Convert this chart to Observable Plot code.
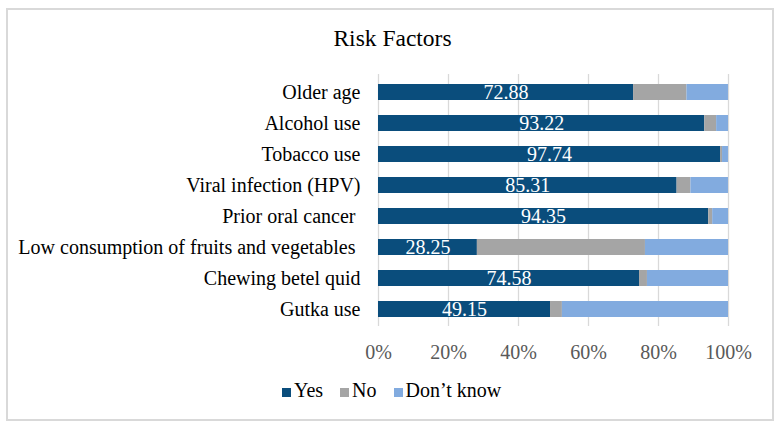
<!DOCTYPE html>
<html>
<head>
<meta charset="utf-8">
<script src="https://cdn.jsdelivr.net/npm/d3@7"></script>
<script src="https://cdn.jsdelivr.net/npm/@observablehq/plot@0.6"></script>
<style>
  html, body { margin: 0; padding: 0; background: #fff; }
  body { width: 782px; height: 427px; position: relative; overflow: hidden; font-family: "Liberation Serif", "Times New Roman", serif; }
  #frame { position: absolute; left: 6px; top: 8px; width: 768px; height: 413px; border: 2px solid #d9d9d9; box-sizing: border-box; }
  #title { position: absolute; left: 0; top: 27px; width: 785px; text-align: center; font-size: 23.5px; line-height: 1; color: #000; }
  #chart { position: absolute; left: 0; top: 0; }
  #chart svg, #chart svg text { font-family: "Liberation Serif", "Times New Roman", serif !important; }
  #legend { position: absolute; left: 282px; top: 380px; font-size: 20px; line-height: 1; color: #000; white-space: nowrap; }
  #legend .sw { display: inline-block; width: 9px; height: 9px; margin-right: 3px; }
  #legend .item { margin-right: 17px; }
  #legend .item:last-child { margin-right: 0; }
</style>
</head>
<body>
<div id="frame"></div>
<div id="title">Risk Factors</div>
<div id="chart"></div>
<div id="legend"></div>
<script>
const factors = ["Older age", "Alcohol use", "Tobacco use", "Viral infection (HPV)", "Prior oral cancer ", "Low consumption of fruits and vegetables ", "Chewing betel quid", "Gutka use"];
const responses = ["Yes", "No", "Don\u2019t know"];
const colors = ["#0a4d7c", "#a5a5a5", "#82abdf"];
const yesValues = [72.88, 93.22, 97.74, 85.31, 94.35, 28.25, 74.58, 49.15];
const noValues = [15.25, 3.39, 0.56, 3.95, 1.13, 48.02, 2.26, 3.39];
const dontKnowValues = [11.86, 3.39, 1.69, 10.73, 4.52, 23.73, 23.16, 47.46];
const xTicks = [0, 20, 40, 60, 80, 100];

const seriesValues = [yesValues, noValues, dontKnowValues];
const data = [];
responses.forEach((r, i) => {
  factors.forEach((f, j) => data.push({factor: f, response: r, value: seriesValues[i][j]}));
});
const yesData = factors.map((f, j) => ({factor: f, value: yesValues[j]}));
const serif = "Liberation Serif";

const plot = Plot.plot({
  width: 782,
  height: 370,
  marginLeft: 378,
  marginRight: 54,
  marginTop: 74,
  marginBottom: 44,
  style: {fontFamily: serif, fontSize: "20px", background: "transparent", overflow: "visible"},
  x: {domain: [0, 100], ticks: xTicks, tickFormat: d => d + "%", tickSize: 0, tickPadding: 18, label: null},
  y: {domain: factors, paddingInner: 0.5, paddingOuter: 0.25, tickSize: 0, tickPadding: 18, label: null},
  color: {domain: responses, range: colors},
  marks: [
    Plot.gridX(xTicks, {stroke: "#d9d9d9", strokeOpacity: 1, strokeWidth: 1.3}),
    Plot.barX(data, {x: "value", y: "factor", fill: "response", order: responses}),
    Plot.text(yesData, {x: d => d.value / 2, y: "factor", text: d => d.value.toFixed(2), fill: "white", fontSize: 20, fontFamily: serif}),
    Plot.axisX({ticks: xTicks, tickFormat: d => d + "%", tickSize: 0, tickPadding: 18, fill: "#595959", fontSize: 20, fontFamily: serif, label: null}),
    Plot.axisY({tickSize: 0, tickPadding: 18, fill: "#000", fontSize: 20, fontFamily: serif, label: null})
  ]
});
document.getElementById("chart").appendChild(plot);

const legend = document.getElementById("legend");
responses.forEach((r, i) => {
  const item = document.createElement("span");
  item.className = "item";
  const sw = document.createElement("span");
  sw.className = "sw";
  sw.style.background = colors[i];
  item.appendChild(sw);
  item.appendChild(document.createTextNode(r));
  legend.appendChild(item);
});
</script>
</body>
</html>
